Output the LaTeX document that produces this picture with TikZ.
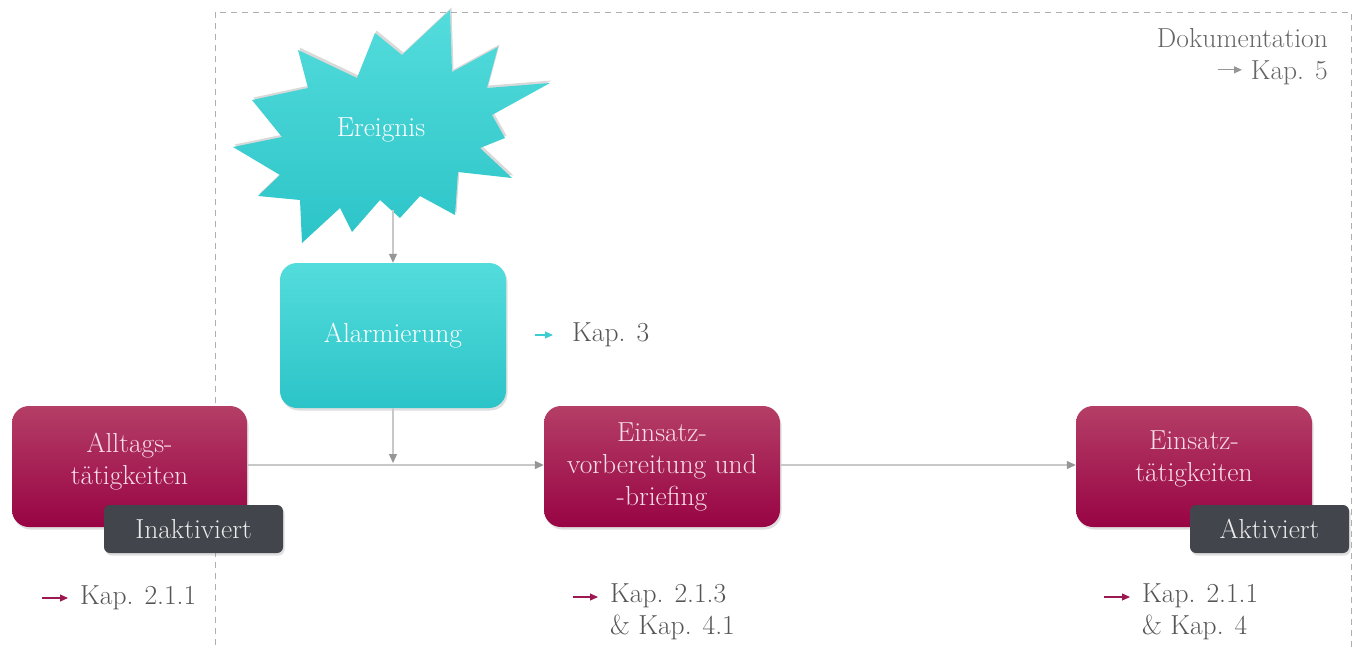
\documentclass[tikz,border=0pt]{standalone}
\usetikzlibrary{arrows.meta,shadows,calc}
\definecolor{crimTop}{RGB}{180,62,102}
\definecolor{crimBot}{RGB}{152,4,68}
\definecolor{turTop}{RGB}{84,220,220}
\definecolor{turBot}{RGB}{44,196,200}
\definecolor{tagGray}{RGB}{66,69,75}
\definecolor{lineGray}{RGB}{200,200,200}
\definecolor{tipGray}{RGB}{150,150,150}
\definecolor{kapText}{RGB}{85,85,85}
\definecolor{crimArrow}{RGB}{155,25,80}
\definecolor{turArrow}{RGB}{60,205,208}
\definecolor{pinkText}{RGB}{248,222,232}
\definecolor{dashGray}{RGB}{175,175,175}
\tikzset{
  txt/.style={font=\fontsize{27.5}{32}\selectfont},
  crimbox/.style={txt, rounded corners=17pt, top color=crimTop, bottom color=crimBot, draw=none,
     text=pinkText, align=center, minimum width=236pt, minimum height=121pt, inner sep=0pt,
     drop shadow={shadow xshift=1.5pt, shadow yshift=-2.5pt, opacity=0.25}},
  turbox/.style={txt, rounded corners=17pt, top color=turTop, bottom color=turBot, draw=none,
     text=white, align=center, minimum width=226pt, minimum height=145pt, inner sep=0pt,
     drop shadow={shadow xshift=1.5pt, shadow yshift=-2.5pt, opacity=0.25}},
  tagbox/.style={txt, rounded corners=6pt, fill=tagGray, text=white!92!black, minimum height=48pt, inner sep=0pt,
     drop shadow={shadow xshift=1.5pt, shadow yshift=-2.5pt, opacity=0.25}},
  flow/.style={draw=lineGray, line width=1.2pt, -{Triangle[length=9pt,width=8pt,color=tipGray]}},
  kaptext/.style={txt, text=kapText, align=left, anchor=west, inner sep=0pt},
  kaparrow/.style={line width=1.1pt, -{Triangle[length=8pt,width=7pt]}},
}
\begin{document}
\begin{tikzpicture}[x=1pt,y=-1pt]
\useasboundingbox (0,0) rectangle (1355,648);
\fill[white] (0,0) rectangle (1355,648);
% dashed frame
\draw[dashGray, line width=1pt, dash pattern=on 6pt off 5pt] (215,700) -- (215,12) -- (1351,12) -- (1351,700);
% Ereignis starburst
\fill[black, opacity=0.15, xshift=1.5pt, yshift=2.5pt]
 (233,147) -- (282,137) -- (252,100) -- (308,88) -- (298,50) -- (357,78) -- (375,33) -- (402,55)
 -- (450,10) -- (452,72) -- (498,47) -- (487,88) -- (550,83) -- (492,115) -- (505,138) -- (480,148)
 -- (512,178) -- (458,172) -- (455,215) -- (420,196) -- (400,218) -- (380,200) -- (352,232) -- (340,208)
 -- (302,243) -- (300,200) -- (258,196) -- (280,175) -- cycle;
\shade[top color=turTop, bottom color=turBot]
 (233,147) -- (282,137) -- (252,100) -- (308,88) -- (298,50) -- (357,78) -- (375,33) -- (402,55)
 -- (450,10) -- (452,72) -- (498,47) -- (487,88) -- (550,83) -- (492,115) -- (505,138) -- (480,148)
 -- (512,178) -- (458,172) -- (455,215) -- (420,196) -- (400,218) -- (380,200) -- (352,232) -- (340,208)
 -- (302,243) -- (300,200) -- (258,196) -- (280,175) -- cycle;
\node[txt, text=white] (ereignis) at (381,130) {Ereignis};
\coordinate (ereignisBottom) at (393,210);
% nodes
\node[turbox] (alarm) at (393,335.5) {Alarmierung};
\node[crimbox, minimum width=235pt] (alltag) at (129.5,466.5) {};
\node[txt, text=pinkText, align=center] at (129.5,462) {Alltags-\\tätigkeiten};
\node[crimbox] (vorb) at (662,466.5) {Einsatz-\\vorbereitung und\\-briefing};
\node[crimbox] (eins) at (1194,466.5) {};
\node[txt, text=pinkText, align=center] at (1194,459) {Einsatz-\\tätigkeiten};
\node[tagbox, minimum width=179pt] (inakt) at (193.5,529) {Inaktiviert};
\node[tagbox, minimum width=159pt] (akt) at (1269.5,529) {Aktiviert};
% connectors
\coordinate (junction) at (393,463);
\draw[flow] (ereignisBottom) -- (alarm.north);
\draw[flow] (alarm.south) -- (junction);
\draw[flow] (alltag.east |- 0,465) -- (vorb.west |- 0,465);
\draw[flow] (vorb.east |- 0,465) -- (eins.west |- 0,465);
% chapter references
\node[kaptext] (kap3) at (572,335) {Kap. 3};
\draw[kaparrow, turArrow] ($(kap3.west)+(-37,0)$) -- ($(kap3.west)+(-19,0)$);
\node[kaptext] (kapA) at (80,598) {Kap. 2.1.1};
\draw[kaparrow, crimArrow] ($(kapA.west)+(-38,0)$) -- ($(kapA.west)+(-12,0)$);
\node[kaptext] (kapB) at (610,612) {Kap. 2.1.3\\ \& Kap. 4.1};
\draw[kaparrow, crimArrow] ($(kapB.west)+(-37,-15)$) -- ($(kapB.west)+(-12,-15)$);
\node[kaptext] (kapC) at (1142,612) {Kap. 2.1.1\\ \& Kap. 4};
\draw[kaparrow, crimArrow] ($(kapC.west)+(-38,-15)$) -- ($(kapC.west)+(-12,-15)$);
\node[txt, text=kapText!90!white, align=right, anchor=north east, inner sep=0pt] (doku) at (1328,28) {Dokumentation\\Kap. 5};
\draw[kaparrow, tipGray] ($(doku.south east)+(-110,-15)$) -- ($(doku.south east)+(-86,-15)$);
\end{tikzpicture}
\end{document}
